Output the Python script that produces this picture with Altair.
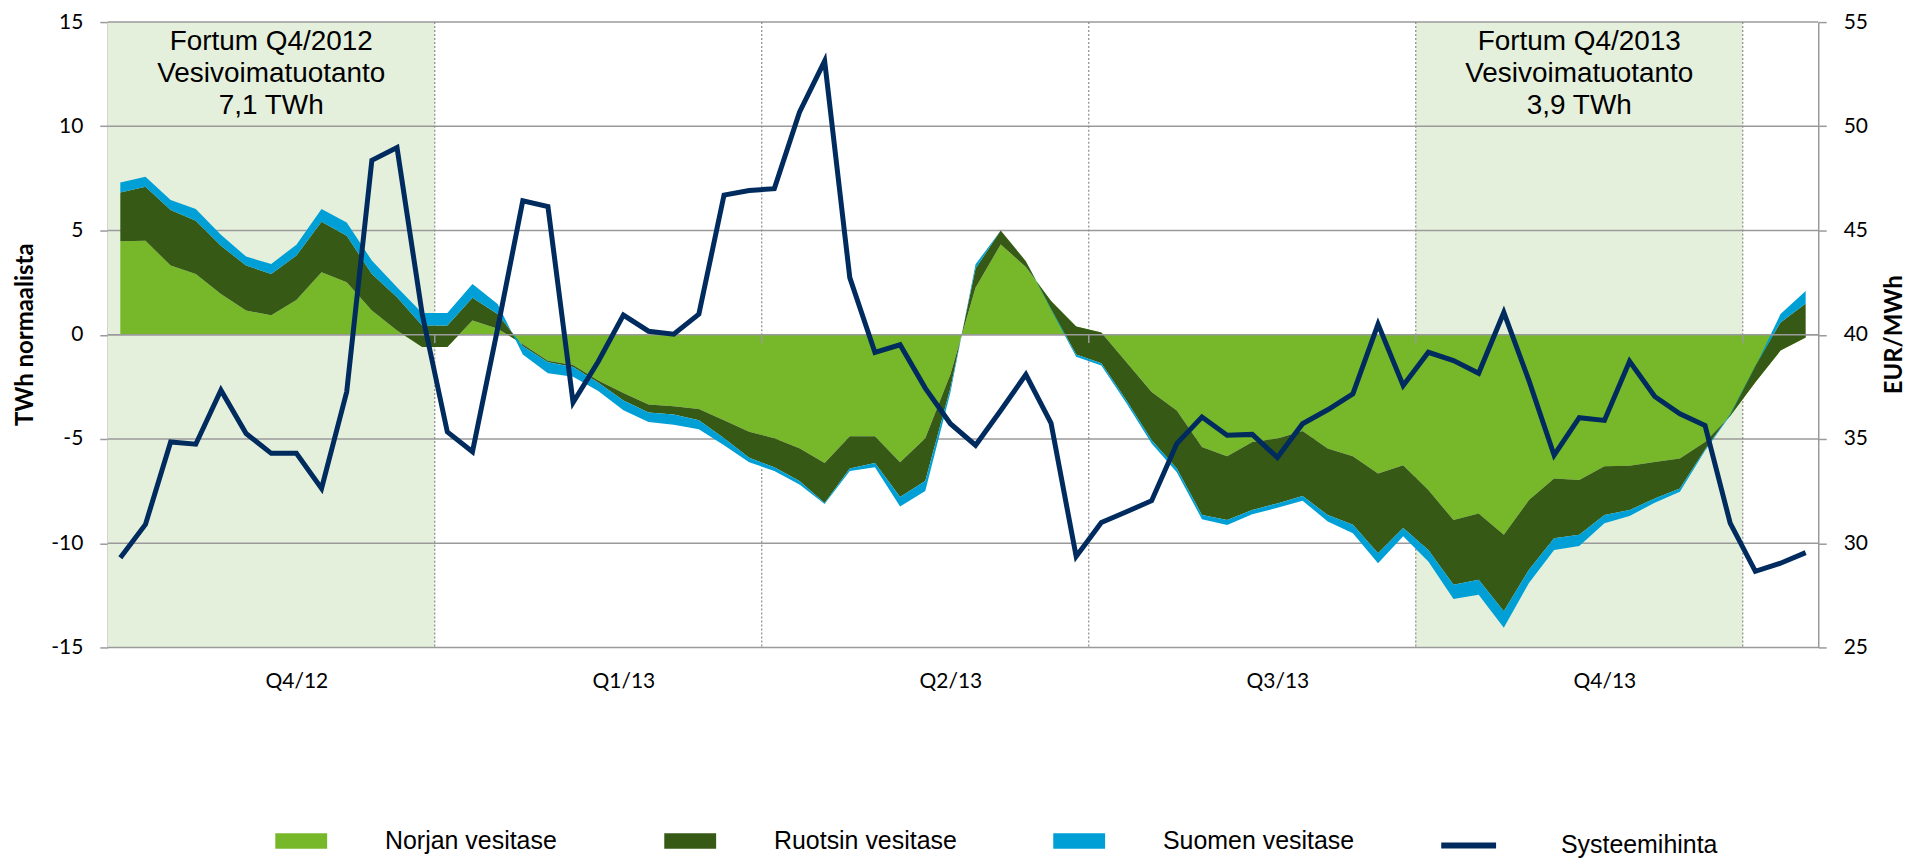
import altair as alt
import pandas as pd

# ---------------- data (weekly, Q4/2012 .. Q4/2013 + 3 weeks) ----------------
norja = [4.48, 4.51, 3.32, 2.92, 1.96, 1.16, 0.93, 1.67, 3.00, 2.52, 1.16, 0.21, -0.59, -0.59, 0.69, 0.29,
         -0.45, -1.25, -1.45, -2.20, -2.80, -3.35, -3.43, -3.56, -4.10, -4.65, -4.96, -5.44, -6.15, -4.87, -4.87, -6.12, -4.96, -1.90,
         2.26, 4.33, 3.25, 1.62, 0.40, 0.11, -1.32, -2.75, -3.63, -5.38, -5.83, -5.14, -4.98, -4.62, -5.46, -5.83, -6.66, -6.26,
         -7.45, -8.89, -8.57, -9.60, -7.93, -6.89, -6.97, -6.31, -6.29, -6.10, -5.94, -5.14, -3.90, -2.28, -0.76, -0.13]
ruotsi = [2.35, 2.59, 2.66, 2.55, 2.31, 2.16, 1.99, 2.13, 2.42, 2.23, 1.76, 1.59, 1.04, 1.04, 1.08, 0.71,
          -0.10, -0.07, -0.10, -0.10, -0.35, -0.38, -0.39, -0.54, -0.86, -1.25, -1.40, -1.57, -1.92, -1.54, -1.28, -1.66, -2.05, -0.65,
          0.92, 0.67, 0.28, -0.37, -1.35, -1.48, -1.83, -2.31, -2.79, -3.27, -3.06, -3.27, -3.11, -3.12, -3.19, -3.29, -3.82, -3.01,
          -2.87, -3.10, -3.18, -3.66, -3.34, -2.87, -2.63, -2.34, -2.12, -1.75, -1.43, -0.36, 0.08, 0.78, 1.35, 1.63]
suomi = [0.47, 0.48, 0.48, 0.56, 0.53, 0.43, 0.48, 0.52, 0.61, 0.64, 0.64, 0.48, 0.59, 0.59, 0.67, 0.48,
         -0.40, -0.53, -0.47, -0.40, -0.47, -0.45, -0.50, -0.43, -0.34, -0.22, -0.17, -0.17, -0.05, -0.12, -0.21, -0.46, -0.48, -0.22,
         0.20, 0.00, 0.00, -0.05, -0.10, -0.11, -0.13, -0.16, -0.17, -0.20, -0.24, -0.20, -0.21, -0.22, -0.31, -0.40, -0.48, -0.40,
         -0.56, -0.69, -0.72, -0.80, -0.64, -0.56, -0.53, -0.39, -0.28, -0.21, -0.16, -0.07, -0.05, -0.02, 0.40, 0.60]
hinta = [29.3, 30.9, 34.86, 34.75, 37.34, 35.26, 34.31, 34.31, 32.63, 37.26, 48.37, 48.98, 41.0, 35.34, 34.39, 40.3, 46.43,
         46.15, 36.75, 38.72, 40.94, 40.17, 40.03, 40.99, 46.70, 46.92, 47.01, 50.68, 53.13, 42.74, 39.15, 39.52, 37.44, 35.73,
         34.70, 36.37, 38.09, 35.76, 29.36, 30.99, 31.51, 32.04, 34.78, 36.05, 35.18, 35.22, 34.11, 35.73, 36.40, 37.17, 40.51, 37.56,
         39.16, 38.76, 38.15, 41.07, 37.80, 34.22, 36.02, 35.89, 38.73, 37.04, 36.21, 35.65, 30.96, 28.65, 29.04, 29.55]

n_weeks = len(norja)
quarter_labels = ["Q4/12", "Q1/13", "Q2/13", "Q3/13", "Q4/13"]
quarter_first_label_pos = 7.5
quarter_len = 13
dividers = [13, 26, 39, 52, 65]
shade_start = [0, 52]
shade_end = [13, 65]
shade_text = ["Fortum Q4/2012\nVesivoimatuotanto\n7,1 TWh", "Fortum Q4/2013\nVesivoimatuotanto\n3,9 TWh"]
left_ticks = [-15, -10, -5, 0, 5, 10, 15]
right_ticks = [25, 30, 35, 40, 45, 50, 55]

area_names = ["Norjan vesitase", "Ruotsin vesitase", "Suomen vesitase"]
area_colors = ["#76B82A", "#365A16", "#00A0D6"]
line_name = "Systeemihinta"
line_color = "#002B5E"
grid_color = "#9A9A9A"
shade_color = "#E5F0DC"

# ---------------- tables ----------------
rows = []
for i in range(n_weeks):
    c1 = norja[i]
    c2 = c1 + ruotsi[i]
    c3 = c2 + suomi[i]
    x = i + 0.5
    rows.append({"series": area_names[0], "x": x, "lo": 0.0, "hi": c1})
    rows.append({"series": area_names[1], "x": x, "lo": c1, "hi": c2})
    rows.append({"series": area_names[2], "x": x, "lo": c2, "hi": c3})
area_df = pd.DataFrame(rows)
price_df = pd.DataFrame({"x": [i + 0.5 for i in range(n_weeks)], "p": hinta, "series": line_name})
shade_df = pd.DataFrame({"s": shade_start, "e": shade_end, "t": shade_text,
                         "c": [(a + b) / 2 for a, b in zip(shade_start, shade_end)]})
div_df = pd.DataFrame({"d": dividers})
grid_df = pd.DataFrame({"v": left_ticks})

FONT = "Lato"
xscale = alt.Scale(domain=[0, n_weeks], nice=False, zero=False)
yscale = alt.Scale(domain=[-15, 15], nice=False, zero=False)
pscale = alt.Scale(domain=[25, 55], nice=False, zero=False)

qpos = [quarter_first_label_pos + quarter_len * k for k in range(len(quarter_labels))]
label_expr = "[" + ",".join("'%s'" % q for q in quarter_labels) + "][round((datum.value - %g) / %d)]" % (
    quarter_first_label_pos, quarter_len)
hyphen_expr = "datum.value < 0 ? '-' + abs(datum.value) : '' + datum.value"

x_axis = alt.Axis(values=qpos, labelExpr=label_expr, ticks=False, tickSize=0, domain=False, grid=False,
                  labelFont=FONT, labelFontSize=21, labelColor="black", labelPadding=23, title=None)

left_axis = alt.Axis(values=left_ticks, orient="left", labelExpr=hyphen_expr,
                     title="TWh normaalista", titleFont=FONT, titleFontSize=24,
                     titleFontWeight="bold", titleColor="black", titleAngle=270, titleX=-82, titleY=313,
                     titleAlign="center", titleBaseline="middle",
                     labelFont=FONT, labelFontSize=21, labelColor="black", labelPadding=17,
                     tickSize=8, tickColor=grid_color, tickWidth=1.5,
                     domainColor=grid_color, domainWidth=1.5, grid=False)
right_axis = alt.Axis(values=right_ticks, orient="right", title="EUR/MWh", titleFont=FONT, titleFontSize=24,
                      titleFontWeight="bold", titleColor="black", titleAngle=270, titleX=76, titleY=313,
                      titleAlign="center", titleBaseline="middle",
                      labelFont=FONT, labelFontSize=21, labelColor="black", labelPadding=17,
                      tickSize=8, tickColor=grid_color, tickWidth=1.5,
                      domainColor=grid_color, domainWidth=1.5, grid=False)

LEG_Y = 795
fill_legend = alt.Legend(orient="none", legendX=168, legendY=LEG_Y, direction="horizontal", columns=3,
                         gridAlign="all", columnPadding=88, labelOffset=58, symbolSize=2704,
                         symbolType="M-1,-0.3L1,-0.3L1,0.3L-1,0.3Z", symbolStrokeWidth=0, symbolOpacity=1,
                         labelFont="Liberation Sans", labelFontSize=25, labelColor="black", labelLimit=600,
                         title=None, padding=0)
stroke_legend = alt.Legend(orient="none", legendX=1334, legendY=LEG_Y, direction="horizontal",
                           labelOffset=62, symbolSize=3025, symbolType="stroke", symbolStrokeWidth=6,
                           labelFont="Liberation Sans", labelFontSize=25, labelColor="black", labelLimit=600,
                           title=None, padding=0)

fill_enc = alt.Fill("series:N", scale=alt.Scale(domain=area_names, range=area_colors), legend=fill_legend)

def X(field):
    return alt.X(field, scale=xscale, axis=x_axis)

shade = alt.Chart(shade_df).mark_rect(color=shade_color).encode(
    x=X("s:Q"), x2="e:Q",
    y=alt.Y(datum=15, scale=yscale, axis=None), y2=alt.datum(-15))

grid = alt.Chart(grid_df).mark_rule(color=grid_color, strokeWidth=1.5).encode(
    y=alt.Y("v:Q", scale=yscale, axis=left_axis))

divs = alt.Chart(div_df).mark_rule(color="#8A8A8A", strokeWidth=1.2, strokeDash=[2, 2]).encode(
    x=X("d:Q"))

def area_layer(k):
    return alt.Chart(area_df).transform_filter(alt.datum.series == area_names[k]).mark_area(
        opacity=1, interpolate="linear").encode(
        x=X("x:Q"),
        y=alt.Y("lo:Q", scale=yscale, axis=None), y2="hi:Q",
        fill=fill_enc)

zero_line = alt.Chart(grid_df).transform_filter(alt.datum.v == 0).mark_rule(
    color=grid_color, strokeWidth=1.5).encode(y=alt.Y("v:Q", scale=yscale, axis=None))

div_ticks = alt.Chart(div_df).mark_rule(color=grid_color, strokeWidth=1.5).encode(
    x=X("d:Q"),
    y=alt.Y(datum=0, scale=yscale, axis=None), y2=alt.datum(-0.4))

notes = alt.Chart(shade_df).mark_text(font="Liberation Sans", fontSize=28, lineBreak="\n", lineHeight=32,
                                      align="center", baseline="alphabetic", color="black").encode(
    x=X("c:Q"), y=alt.value(28), text="t:N")

price = alt.Chart(price_df).mark_line(strokeWidth=5, strokeJoin="miter").encode(
    x=X("x:Q"),
    y=alt.Y("p:Q", scale=pscale, axis=right_axis),
    stroke=alt.Stroke("series:N", scale=alt.Scale(domain=[line_name], range=[line_color]), legend=stroke_legend))

chart = alt.layer(shade, grid, divs, area_layer(0), area_layer(1), area_layer(2), zero_line, div_ticks, notes,
                  price).resolve_scale(y="independent").properties(
    width=1715, height=627,
    autosize=alt.AutoSizeParams(type="none"),
    padding={"top": 13, "left": 100, "right": 90, "bottom": 210},
    background="white",
).configure_view(stroke=None)

chart.save("out.html", embed_options={"renderer": "svg", "actions": False})
